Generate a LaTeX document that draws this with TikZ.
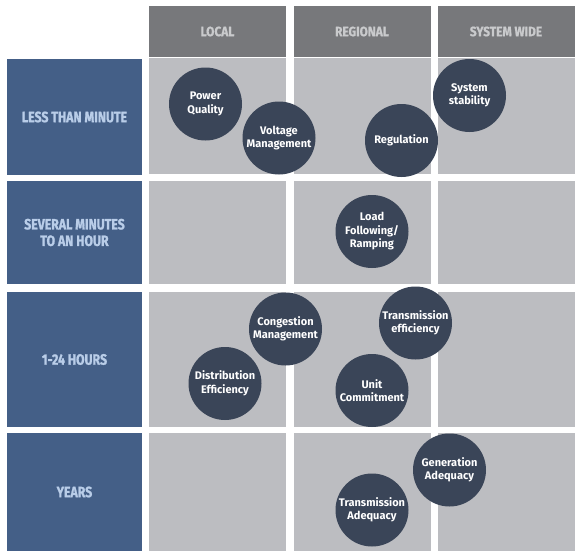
\documentclass[tikz,border=0pt]{standalone}
\usepackage{fontspec}
\setmainfont{Fira Sans}
\newfontfamily\headfont[FakeStretch=0.88, BoldFeatures={FakeBold=1.2}]{Fira Sans}
\newfontfamily\rowfont[FakeStretch=0.82, BoldFeatures={FakeBold=1.2}]{Fira Sans}

\definecolor{labelblue}{HTML}{445F87}
\definecolor{labeltext}{HTML}{B9CDE8}
\definecolor{headgray}{HTML}{77787B}
\definecolor{headtext}{HTML}{C9CACC}
\definecolor{cellgray}{HTML}{BCBDC1}
\definecolor{bubble}{HTML}{3A4558}

\begin{document}
\begin{tikzpicture}[
    x=1pt, y=-1pt,
    head_box/.style = {rectangle, fill=headgray, text=headtext, minimum width=137, minimum height=51, inner sep=0pt, font=\headfont\bfseries\fontsize{13.5}{15}\selectfont},
    row_box/.style = {rectangle, fill=labelblue, text=labeltext, minimum width=135, inner sep=0pt, align=center, font=\rowfont\bfseries\fontsize{15}{16.5}\selectfont},
    cell/.style = {rectangle, fill=cellgray, minimum width=137, inner sep=0pt},
    task/.style = {circle, fill=bubble, text=white, minimum size=73, inner sep=0pt, align=center, font=\bfseries\fontsize{11}{13.5}\selectfont}
]
\useasboundingbox (0,0) rectangle (579,554);

% --- Column headers ---
\node[head_box] (h_local) at (217.5, 31.5) {LOCAL};
\node[head_box] (h_regional) at (362, 31.5) {REGIONAL};
\node[head_box] (h_system) at (506, 31.5) {SYSTEM WIDE};

% --- Row labels ---
\node[row_box, minimum height=116] (r_minute) at (74.5, 117) {LESS THAN MINUTE};
\node[row_box, minimum height=103] (r_hour) at (74.5, 232.5) {SEVERAL MINUTES\\TO AN HOUR};
\node[row_box, minimum height=135] (r_day) at (74.5, 359.5) {1-24 HOURS};
\node[row_box, minimum height=118] (r_year) at (74.5, 492) {YEARS};

% --- Grid cells ---
\node[cell, minimum height=116] (c11) at (217.5, 116) {};
\node[cell, minimum height=116] (c12) at (362, 116) {};
\node[cell, minimum height=116] (c13) at (506, 116) {};
\node[cell, minimum height=103] (c21) at (217.5, 232.5) {};
\node[cell, minimum height=103] (c22) at (362, 232.5) {};
\node[cell, minimum height=103] (c23) at (506, 232.5) {};
\node[cell, minimum height=135] (c31) at (217.5, 359.5) {};
\node[cell, minimum height=135] (c32) at (362, 359.5) {};
\node[cell, minimum height=135] (c33) at (506, 359.5) {};
\node[cell, minimum height=118] (c41) at (217.5, 492) {};
\node[cell, minimum height=118] (c42) at (362, 492) {};
\node[cell, minimum height=118] (c43) at (506, 492) {};

% --- Services (circles) ---
\node[task] (power) at (205.5, 104) {Power\\Quality};
\node[task] (voltage) at (279, 138) {Voltage\\Management};
\node[task] (regulation) at (401.5, 140.5) {Regulation};
\node[task] (stability) at (469.5, 95.5) {System\\stability};
\node[task] (load) at (372, 231.5) {Load\\Following/\\Ramping};
\node[task] (congestion) at (285.5, 329) {Congestion\\Management};
\node[task] (trans_eff) at (415.5, 323) {Transmission\\efficiency};
\node[task] (distribution) at (225, 383.5) {Distribution\\Efficiency};
\node[task] (unit) at (372, 390.5) {Unit\\Commitment};
\node[task] (generation) at (449.5, 470) {Generation\\Adequacy};
\node[task] (trans_adeq) at (372, 510) {Transmission\\Adequacy};

\end{tikzpicture}
\end{document}
